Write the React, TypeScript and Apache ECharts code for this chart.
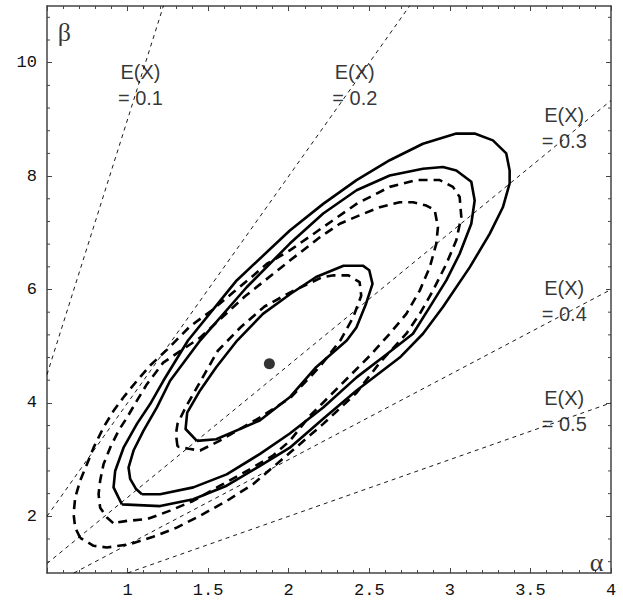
import React, { useEffect, useRef } from "react";
import * as echarts from "echarts";

// ---- axis ticks ----
const yMajorTicks = [2, 4, 6, 8, 10];
const yMinorTicks = [1.2, 1.6, 2.4, 2.8, 3.2, 3.6, 4.4, 4.8, 5.2, 5.6, 6.4, 6.8, 7.2, 7.6, 8.4, 8.8, 9.2, 9.6, 10.4, 10.8];

// ---- iso-mean lines E(X) = alpha/(alpha+beta) (endpoints on the frame) ----
const meanLabels = ["0.1", "0.2", "0.3", "0.4", "0.5"];
const meanLine01 = [[0.5, 4.5], [1.2222, 11]];
const meanLine02 = [[0.5, 2], [2.75, 11]];
const meanLine03 = [[0.5, 1.1667], [4, 9.3333]];
const meanLine04 = [[0.6667, 1], [4, 6]];
const meanLine05 = [[1, 1], [4, 4]];
const meanLabelPositions = [[1.08, 9.6], [2.41, 9.6], [3.71, 8.84], [3.71, 5.8], [3.71, 3.86]];

// ---- point estimate ----
const estimate = [[1.88, 4.69]];

// ---- contours (alpha, beta) ----
const outerSolid = [[0.965,2.21],[0.944,2.33],[0.913,2.51],[0.923,2.80],[0.975,3.21],[1.058,3.63],[1.140,3.98],[1.222,4.39],[1.375,5.10],[1.677,6.16],[2.007,7.04],[2.214,7.51],[2.421,7.93],[2.627,8.28],[2.833,8.57],[3.040,8.75],[3.154,8.75],[3.267,8.63],[3.350,8.40],[3.371,8.10],[3.371,7.87],[3.329,7.45],[3.247,6.98],[3.123,6.39],[2.957,5.69],[2.833,5.22],[2.689,4.80],[2.421,4.22],[2.214,3.72],[2.007,3.21],[1.822,2.89],[1.615,2.54],[1.408,2.30],[1.202,2.18],[0.965,2.21]];
const middleSolid = [[1.089,2.39],[1.053,2.48],[1.016,2.66],[1.006,2.86],[1.037,3.16],[1.099,3.51],[1.182,3.92],[1.264,4.39],[1.450,5.10],[1.739,6.04],[2.007,6.81],[2.214,7.34],[2.421,7.75],[2.627,8.01],[2.833,8.13],[2.957,8.16],[3.040,8.10],[3.133,7.90],[3.154,7.57],[3.133,7.16],[3.061,6.63],[2.978,6.16],[2.875,5.69],[2.771,5.22],[2.596,4.83],[2.421,4.45],[2.214,3.92],[2.007,3.46],[1.822,3.10],[1.615,2.74],[1.408,2.51],[1.202,2.39],[1.089,2.39]];
const innerSolid = [[1.43,3.33],[1.36,3.54],[1.37,3.83],[1.45,4.22],[1.55,4.63],[1.68,5.10],[1.84,5.57],[2.01,5.92],[2.17,6.22],[2.34,6.42],[2.46,6.42],[2.50,6.34],[2.52,6.10],[2.48,5.75],[2.42,5.33],[2.36,5.10],[2.17,4.63],[2.01,4.11],[1.82,3.69],[1.55,3.36],[1.43,3.33]];
const innerDashed = [[1.31,3.23],[1.30,3.45],[1.31,3.63],[1.36,3.92],[1.43,4.27],[1.49,4.57],[1.56,4.92],[1.70,5.33],[1.85,5.70],[2.01,5.95],[2.21,6.22],[2.28,6.25],[2.37,6.25],[2.44,6.13],[2.45,5.89],[2.40,5.51],[2.32,5.10],[2.19,4.63],[2.01,4.09],[1.82,3.74],[1.57,3.33],[1.45,3.16],[1.38,3.19],[1.31,3.23]];
const outerDashed = [[0.706,1.62],[0.675,1.80],[0.665,2.04],[0.675,2.33],[0.706,2.63],[0.748,2.92],[0.789,3.21],[0.851,3.57],[0.913,3.86],[0.975,4.10],[1.058,4.39],[1.140,4.66],[1.245,4.94],[1.388,5.35],[1.522,5.63],[1.656,5.95],[1.770,6.22],[1.863,6.45],[2.007,6.69],[2.214,7.10],[2.421,7.51],[2.627,7.81],[2.792,7.93],[2.937,7.93],[3.019,7.81],[3.061,7.63],[3.071,7.28],[3.040,6.87],[2.978,6.45],[2.895,5.98],[2.813,5.57],[2.730,5.22],[2.565,4.71],[2.421,4.18],[2.214,3.63],[2.007,3.12],[1.780,2.57],[1.615,2.27],[1.450,2.01],[1.305,1.80],[1.159,1.64],[1.016,1.51],[0.872,1.45],[0.789,1.48],[0.706,1.62]];
const middleDashed = [[0.911,1.88],[0.872,1.98],[0.830,2.15],[0.820,2.39],[0.830,2.63],[0.851,2.92],[0.892,3.21],[0.944,3.51],[0.996,3.74],[1.058,4.04],[1.120,4.33],[1.221,4.71],[1.450,5.15],[1.729,5.88],[2.007,6.51],[2.193,6.92],[2.317,7.16],[2.441,7.31],[2.565,7.45],[2.689,7.54],[2.771,7.54],[2.854,7.48],[2.906,7.40],[2.926,7.10],[2.916,6.81],[2.875,6.39],[2.813,5.98],[2.730,5.57],[2.627,5.22],[2.503,4.83],[2.317,4.30],[2.131,3.77],[2.007,3.33],[1.902,3.07],[1.741,2.80],[1.574,2.54],[1.406,2.27],[1.264,2.10],[1.121,1.95],[0.998,1.92],[0.911,1.88]];

const X_MIN = 0.5, X_MAX = 4, Y_MIN = 1, Y_MAX = 11;
const axisNamePositions = { beta: [0.607, 10.54], alpha: [3.91, 1.18] };

const FRAME = "#444";

export default function App() {
  const ref = useRef<HTMLDivElement>(null);
  useEffect(() => {
    if (!ref.current) return;
    const chart = echarts.init(ref.current, null, { renderer: "svg" });
    const tickStyle = { color: FRAME, width: 1 };
    const xCommon = {
      type: "value", min: X_MIN, max: X_MAX, interval: 0.5,
      axisLine: { show: true, onZero: false, lineStyle: { color: FRAME, width: 1.5 } },
      axisTick: { show: true, inside: true, length: 5, lineStyle: tickStyle },
      minorTick: { show: true, splitNumber: 5, length: 3, lineStyle: tickStyle },
      splitLine: { show: false }, minorSplitLine: { show: false },
    };
    const yCommon = {
      type: "value", min: Y_MIN, max: Y_MAX,
      axisLine: { show: true, onZero: false, lineStyle: { color: FRAME, width: 1.5 } },
      axisTick: { show: true, inside: true, length: 5, lineStyle: tickStyle, customValues: yMajorTicks },
      splitLine: { show: false },
    };
    const contour = (data: number[][], dashed: boolean) => ({
      type: "line", data, showSymbol: false, symbol: "none", silent: true, z: 3,
      lineStyle: { color: "#000", width: 2.6, type: dashed ? [9, 6] : "solid", cap: "butt", join: "round" },
    });
    const meanLine = (data: number[][]) => ({
      type: "line", data, showSymbol: false, symbol: "none", silent: true, z: 2, clip: true,
      lineStyle: { color: "#000", width: 0.9, type: [4, 4] },
    });
    chart.setOption({
      animation: false,
      grid: { left: 47, right: 12, top: 6, bottom: 27 },
      xAxis: [
        { ...xCommon, position: "bottom",
          axisLabel: { show: true, margin: 9, color: "#111", fontFamily: "Liberation Mono", fontSize: 17,
            formatter: (v: number) => (v === X_MIN ? "" : String(v)) } },
        { ...xCommon, position: "top", axisLabel: { show: false } },
      ],
      yAxis: [
        { ...yCommon, position: "left",
          axisLabel: { show: true, margin: 10, color: "#111", fontFamily: "Liberation Mono", fontSize: 17, customValues: yMajorTicks } },
        { ...yCommon, position: "right", axisLabel: { show: false } },
      ],
      series: [
        meanLine(meanLine01), meanLine(meanLine02), meanLine(meanLine03), meanLine(meanLine04), meanLine(meanLine05),
        {
          type: "custom", silent: true, clip: false, z: 4,
          data: yMinorTicks.map((v) => [X_MIN, v]),
          renderItem: (params: any, api: any) => {
            const p = api.coord([api.value(0), api.value(1)]);
            const cs = params.coordSys;
            const st = { stroke: FRAME, lineWidth: 1 };
            return {
              type: "group",
              children: [
                { type: "line", shape: { x1: cs.x, y1: p[1], x2: cs.x + 3, y2: p[1] }, style: st },
                { type: "line", shape: { x1: cs.x + cs.width, y1: p[1], x2: cs.x + cs.width - 3, y2: p[1] }, style: st },
              ],
            };
          },
        },
        contour(outerSolid, false),
        contour(middleSolid, false),
        contour(innerSolid, false),
        contour(outerDashed, true),
        contour(middleDashed, true),
        contour(innerDashed, true),
        { type: "scatter", data: estimate, symbolSize: 11, itemStyle: { color: "#000" }, z: 5, silent: true },
        {
          type: "scatter", silent: true, z: 6, symbolSize: 1, itemStyle: { color: "rgba(0,0,0,0)" },
          data: meanLabels.map((m, i) => ({ name: m, value: meanLabelPositions[i] })),
          label: {
            show: true, position: "inside", formatter: (p: any) => `E(X)\n= ${p.name}`,
            fontFamily: "Liberation Sans", fontSize: 20, lineHeight: 26, color: "#000", align: "center", verticalAlign: "middle",
          },
        },
        {
          type: "scatter", silent: true, z: 6, symbolSize: 1, itemStyle: { color: "rgba(0,0,0,0)" },
          data: [
            { name: "β", value: axisNamePositions.beta },
            { name: "α", value: axisNamePositions.alpha },
          ],
          label: {
            show: true, position: "inside", formatter: (p: any) => p.name,
            fontFamily: "Liberation Serif", fontSize: 26, color: "#000", align: "center", verticalAlign: "middle",
          },
        },
      ],
    });
    return () => chart.dispose();
  }, []);
  return <div ref={ref} style={{ position: "absolute", left: 0, top: 0, width: 623, height: 600, background: "#fff" }} />;
}
